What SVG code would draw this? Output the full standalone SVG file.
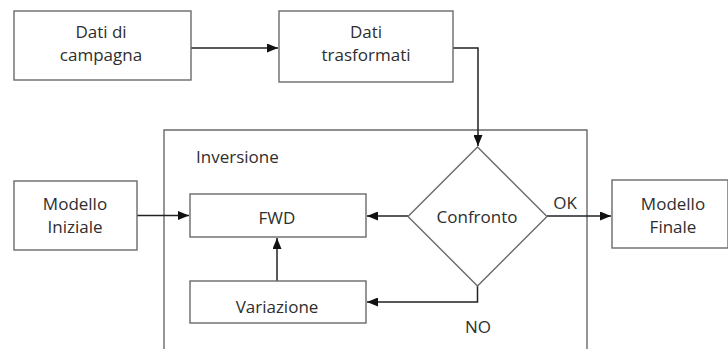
<svg xmlns="http://www.w3.org/2000/svg" width="728" height="349" viewBox="0 0 728 349">
<style>
.box{fill:#fff;stroke:#6a6a6a;stroke-width:1.4}
.frame{fill:none;stroke:#6a6a6a;stroke-width:1.4}
.t{font-family:"Open Sans","Liberation Sans",sans-serif;font-size:17px;fill:#2e2e2e;text-anchor:middle}
.c{fill:none;stroke:#222;stroke-width:1.5}
</style>
<defs>
<marker id="ah" viewBox="0 0 11 9" refX="11" refY="4.5" markerWidth="11" markerHeight="9" markerUnits="userSpaceOnUse" orient="auto">
<path d="M0,0 L11,4.5 L0,9 Z" fill="#111"/>
</marker>
</defs>
<rect width="728" height="349" fill="#fff"/>
<g id="inversione">
<path class="frame" d="M164,349 V130 H587 V349"/>
<text class="t" x="196" y="163" style="text-anchor:start">Inversione</text>
</g>
<g id="connectors">
<path class="c" d="M191,48 H278" marker-end="url(#ah)"/>
<path class="c" d="M453,48 H478 V146" marker-end="url(#ah)"/>
<path class="c" d="M137,215.5 H189" marker-end="url(#ah)"/>
<path class="c" d="M408,216 H367" marker-end="url(#ah)"/>
<path class="c" d="M277,281 V238" marker-end="url(#ah)"/>
<path class="c" d="M477.5,286 V302 H367" marker-end="url(#ah)"/>
<path class="c" d="M547,216 H611" marker-end="url(#ah)"/>
<text class="t" x="565" y="209">OK</text>
<text class="t" x="478" y="333">NO</text>
</g>
<g id="dati-campagna">
<rect class="box" x="14" y="11" width="177" height="69"/>
<text class="t" x="101" y="38">Dati di</text>
<text class="t" x="101" y="61">campagna</text>
</g>
<g id="dati-trasformati">
<rect class="box" x="279" y="11" width="174" height="71"/>
<text class="t" x="366" y="38">Dati</text>
<text class="t" x="366" y="61">trasformati</text>
</g>
<g id="modello-iniziale">
<rect class="box" x="14" y="181" width="123" height="69"/>
<text class="t" x="75" y="210">Modello</text>
<text class="t" x="75" y="233">Iniziale</text>
</g>
<g id="fwd">
<rect class="box" x="190" y="194" width="176" height="43"/>
<text class="t" x="277" y="224">FWD</text>
</g>
<g id="variazione">
<rect class="box" x="190" y="281" width="176" height="42"/>
<text class="t" x="277" y="313">Variazione</text>
</g>
<g id="confronto">
<path class="box" d="M477.5,147 L547,216.5 L477.5,286 L408,216.5 Z"/>
<text class="t" x="477" y="223">Confronto</text>
</g>
<g id="modello-finale">
<rect class="box" x="612" y="180" width="116" height="68"/>
<text class="t" x="673" y="210">Modello</text>
<text class="t" x="673" y="233">Finale</text>
</g>
</svg>
